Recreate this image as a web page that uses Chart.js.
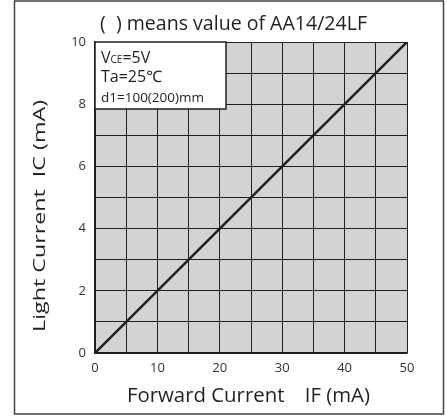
<!DOCTYPE html>
<html><head><meta charset="utf-8">
<script src="https://cdn.jsdelivr.net/npm/chart.js@4"></script>
<style>html,body{margin:0;padding:0;background:#fff}#wrap{width:447px;height:416px;position:relative}</style>
</head><body><div id="wrap"><canvas id="c"></canvas></div>
<script>
const forwardCurrent = [0, 50];      // IF (mA)
const lightCurrent = [0, 10];        // IC (mA)
const xTickLabels = [0, 10, 20, 30, 40, 50];
const yTickLabels = [0, 2, 4, 6, 8, 10];
const titleText = '(  ) means value of AA14/24LF';
const xTitle = 'Forward Current\u3000IF (mA)';
const yTitle = 'Light Current  IC (mA)';
const noteLines = ['VCE=5V', 'Ta=25\u2103', 'd1=100(200)mm'];

const FONT = '"Open Sans", "Noto Sans", sans-serif';
const INK = '#231f20';

function fitText(ctx, text, cx, cy, width) {
  const w = ctx.measureText(text).width;
  ctx.save();
  ctx.translate(cx, cy);
  ctx.scale(width / w, 1);
  ctx.textAlign = 'center';
  ctx.fillText(text, 0, 0);
  ctx.restore();
}

const deco = {
  id: 'deco',
  beforeDraw(chart) {
    const {ctx, chartArea: a} = chart;
    ctx.save();
    ctx.fillStyle = '#d3d3d3';
    ctx.fillRect(a.left, a.top, a.right - a.left, a.bottom - a.top);
    ctx.restore();
  },
  afterDraw(chart) {
    const {ctx, chartArea: a} = chart;
    ctx.save();
    // outer frame
    ctx.strokeStyle = '#444';
    ctx.lineWidth = 1.5;
    ctx.strokeRect(14.5, 1, 429, 413);
    // title
    ctx.fillStyle = '#231f20';
    ctx.textBaseline = 'alphabetic';
    ctx.font = '20px ' + FONT;
    fitText(ctx, titleText, 233.5, 30, 267);
    // x axis title
    ctx.font = '20px ' + FONT;
    fitText(ctx, xTitle, 248.5, 402, 243);
    // y axis title (rotated)
    ctx.save();
    ctx.translate(45, 216);
    ctx.rotate(-Math.PI / 2);
    ctx.font = '17px ' + FONT;
    fitText(ctx, yTitle, 0, 0, 232);
    ctx.restore();
    // note box
    const bx = a.left, by = a.top;
    const bw = 131, bh = 67;
    ctx.fillStyle = '#fff';
    ctx.fillRect(bx, by, bw, bh);
    ctx.strokeStyle = INK;
    ctx.lineWidth = 1.5;
    ctx.strokeRect(bx, by, bw, bh);
    ctx.fillStyle = INK;
    ctx.textAlign = 'left';
    ctx.textBaseline = 'alphabetic';
    let x = bx + 6, y = by + 21;
    ctx.font = '16px ' + FONT;
    ctx.fillText('V', x, y); x += ctx.measureText('V').width;
    ctx.font = '10px ' + FONT;
    ctx.fillText('CE', x, y); x += ctx.measureText('CE').width;
    ctx.font = '16px ' + FONT;
    ctx.fillText('=5V', x, y);
    ctx.fillText(noteLines[1], bx + 6, by + 40);
    ctx.font = '13.5px ' + FONT;
    ctx.fillText(noteLines[2], bx + 6, by + 60);
    ctx.restore();
  }
};

new Chart(document.getElementById('c'), {
  type: 'scatter',
  data: {
    datasets: [{
      data: forwardCurrent.map((v, i) => ({x: v, y: lightCurrent[i]})),
      showLine: true,
      borderColor: INK,
      borderWidth: 2.5,
      pointRadius: 0,
      fill: false
    }]
  },
  options: {
    responsive: true,
    maintainAspectRatio: false,
    animation: false,
    layout: {padding: {top: 42, right: 40, left: 0, bottom: 0}},
    plugins: {legend: {display: false}, tooltip: {enabled: false}},
    scales: {
      x: {
        type: 'linear', min: 0, max: 50,
        afterFit(s) { s.height = 63; },
        ticks: {
          stepSize: 5, padding: 7, color: '#333',
          font: {family: FONT, size: 13},
          maxRotation: 0, autoSkip: false,
          callback: v => xTickLabels.includes(v) ? String(v) : ''
        },
        grid: {color: INK, lineWidth: 1, drawTicks: false},
        border: {color: INK, width: 1.5}
      },
      y: {
        type: 'linear', min: 0, max: 10,
        afterFit(s) { s.width = 95; },
        ticks: {
          stepSize: 1, padding: 9, color: '#333',
          font: {family: FONT, size: 13},
          autoSkip: false,
          callback: v => yTickLabels.includes(v) ? String(v) : ''
        },
        grid: {color: INK, lineWidth: 1, drawTicks: false},
        border: {color: INK, width: 1.5}
      }
    }
  },
  plugins: [deco]
});
</script></body></html>
